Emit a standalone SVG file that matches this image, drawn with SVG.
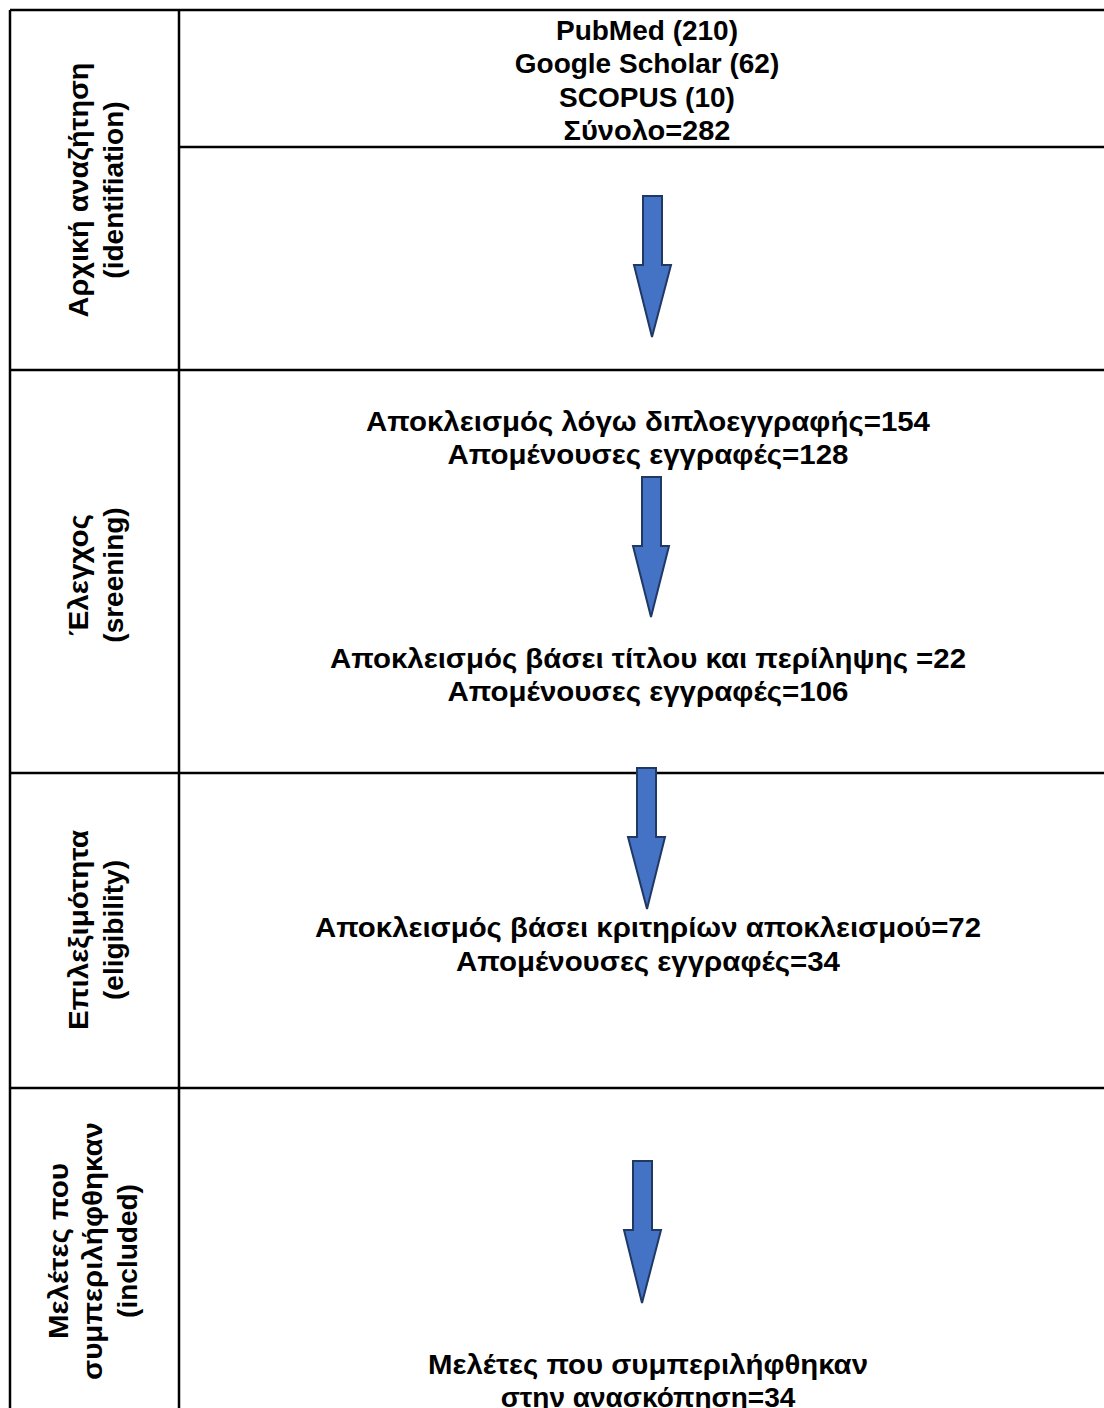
<svg xmlns="http://www.w3.org/2000/svg" width="1104" height="1408" viewBox="0 0 1104 1408">
<style>
.t{font-family:"Liberation Sans",Arial,sans-serif;font-weight:bold;font-size:28px;fill:#000;text-anchor:middle}
.ln{stroke:#000;stroke-width:2.5;fill:none}
.ar{fill:#4472C4;stroke:#1F3864;stroke-width:2;stroke-linejoin:miter}
</style>
<rect width="1104" height="1408" fill="#fff"/>
<g id="table">
<line class="ln" x1="10" y1="10" x2="1104" y2="10"/>
<line class="ln" x1="10" y1="10" x2="10" y2="1408"/>
<line class="ln" x1="179" y1="10" x2="179" y2="1408"/>
<line class="ln" x1="179" y1="147" x2="1104" y2="147"/>
<line class="ln" x1="10" y1="370" x2="1104" y2="370"/>
<line class="ln" x1="10" y1="773" x2="1104" y2="773"/>
<line class="ln" x1="10" y1="1088" x2="1104" y2="1088"/>
</g>
<g id="label-identification">
<text class="t" transform="translate(0,190) rotate(-90)"><tspan x="0" y="88" textLength="255" lengthAdjust="spacingAndGlyphs">Αρχική αναζήτηση</tspan><tspan x="0" y="123">(identifiation)</tspan></text>
</g>
<g id="label-screening">
<text class="t" transform="translate(0,575) rotate(-90)"><tspan x="0" y="88" textLength="122" lengthAdjust="spacingAndGlyphs">Έλεγχος</tspan><tspan x="0" y="123">(sreening)</tspan></text>
</g>
<g id="label-eligibility">
<text class="t" transform="translate(0,930) rotate(-90)"><tspan x="0" y="88" textLength="200" lengthAdjust="spacingAndGlyphs">Επιλεξιμότητα</tspan><tspan x="0" y="123">(eligibility)</tspan></text>
</g>
<g id="label-included">
<text class="t" transform="translate(0,1251) rotate(-90)"><tspan x="0" y="68" textLength="176" lengthAdjust="spacingAndGlyphs">Μελέτες που</tspan><tspan x="0" y="102" textLength="258" lengthAdjust="spacingAndGlyphs">συμπεριλήφθηκαν</tspan><tspan x="0" y="137">(included)</tspan></text>
</g>
<g id="node-sources">
<text class="t"><tspan x="647" y="40">PubMed (210)</tspan><tspan x="647" y="73">Google Scholar (62)</tspan><tspan x="647" y="107">SCOPUS (10)</tspan><tspan x="647" y="140" textLength="167" lengthAdjust="spacingAndGlyphs">Σύνολο=282</tspan></text>
</g>
<g id="node-duplicates">
<text class="t"><tspan x="648" y="431" textLength="564" lengthAdjust="spacingAndGlyphs">Αποκλεισμός λόγω διπλοεγγραφής=154</tspan><tspan x="648" y="464" textLength="401" lengthAdjust="spacingAndGlyphs">Απομένουσες εγγραφές=128</tspan></text>
</g>
<g id="node-title">
<text class="t"><tspan x="648" y="668" textLength="636" lengthAdjust="spacingAndGlyphs">Αποκλεισμός βάσει τίτλου και περίληψης =22</tspan><tspan x="648" y="701" textLength="401" lengthAdjust="spacingAndGlyphs">Απομένουσες εγγραφές=106</tspan></text>
</g>
<g id="node-criteria">
<text class="t"><tspan x="648" y="937" textLength="666" lengthAdjust="spacingAndGlyphs">Αποκλεισμός βάσει κριτηρίων αποκλεισμού=72</tspan><tspan x="648" y="971" textLength="384" lengthAdjust="spacingAndGlyphs">Απομένουσες εγγραφές=34</tspan></text>
</g>
<g id="node-included">
<text class="t"><tspan x="648" y="1374" textLength="440" lengthAdjust="spacingAndGlyphs">Μελέτες που συμπεριλήφθηκαν</tspan><tspan x="648" y="1407">στην ανασκόπηση=34</tspan></text>
</g>
<g id="connectors">
<polygon class="ar" points="643,196 662,196 662,265 671,265 652,337 634,265 643,265"/>
<polygon class="ar" points="642,477 661,477 661,546 669,546 651,617 633,546 642,546"/>
<polygon class="ar" points="637,768 656,768 656,837 665,837 647,909 628,837 637,837"/>
<polygon class="ar" points="633,1161 652,1161 652,1230 661,1230 642,1303 624,1230 633,1230"/>
</g>
</svg>
